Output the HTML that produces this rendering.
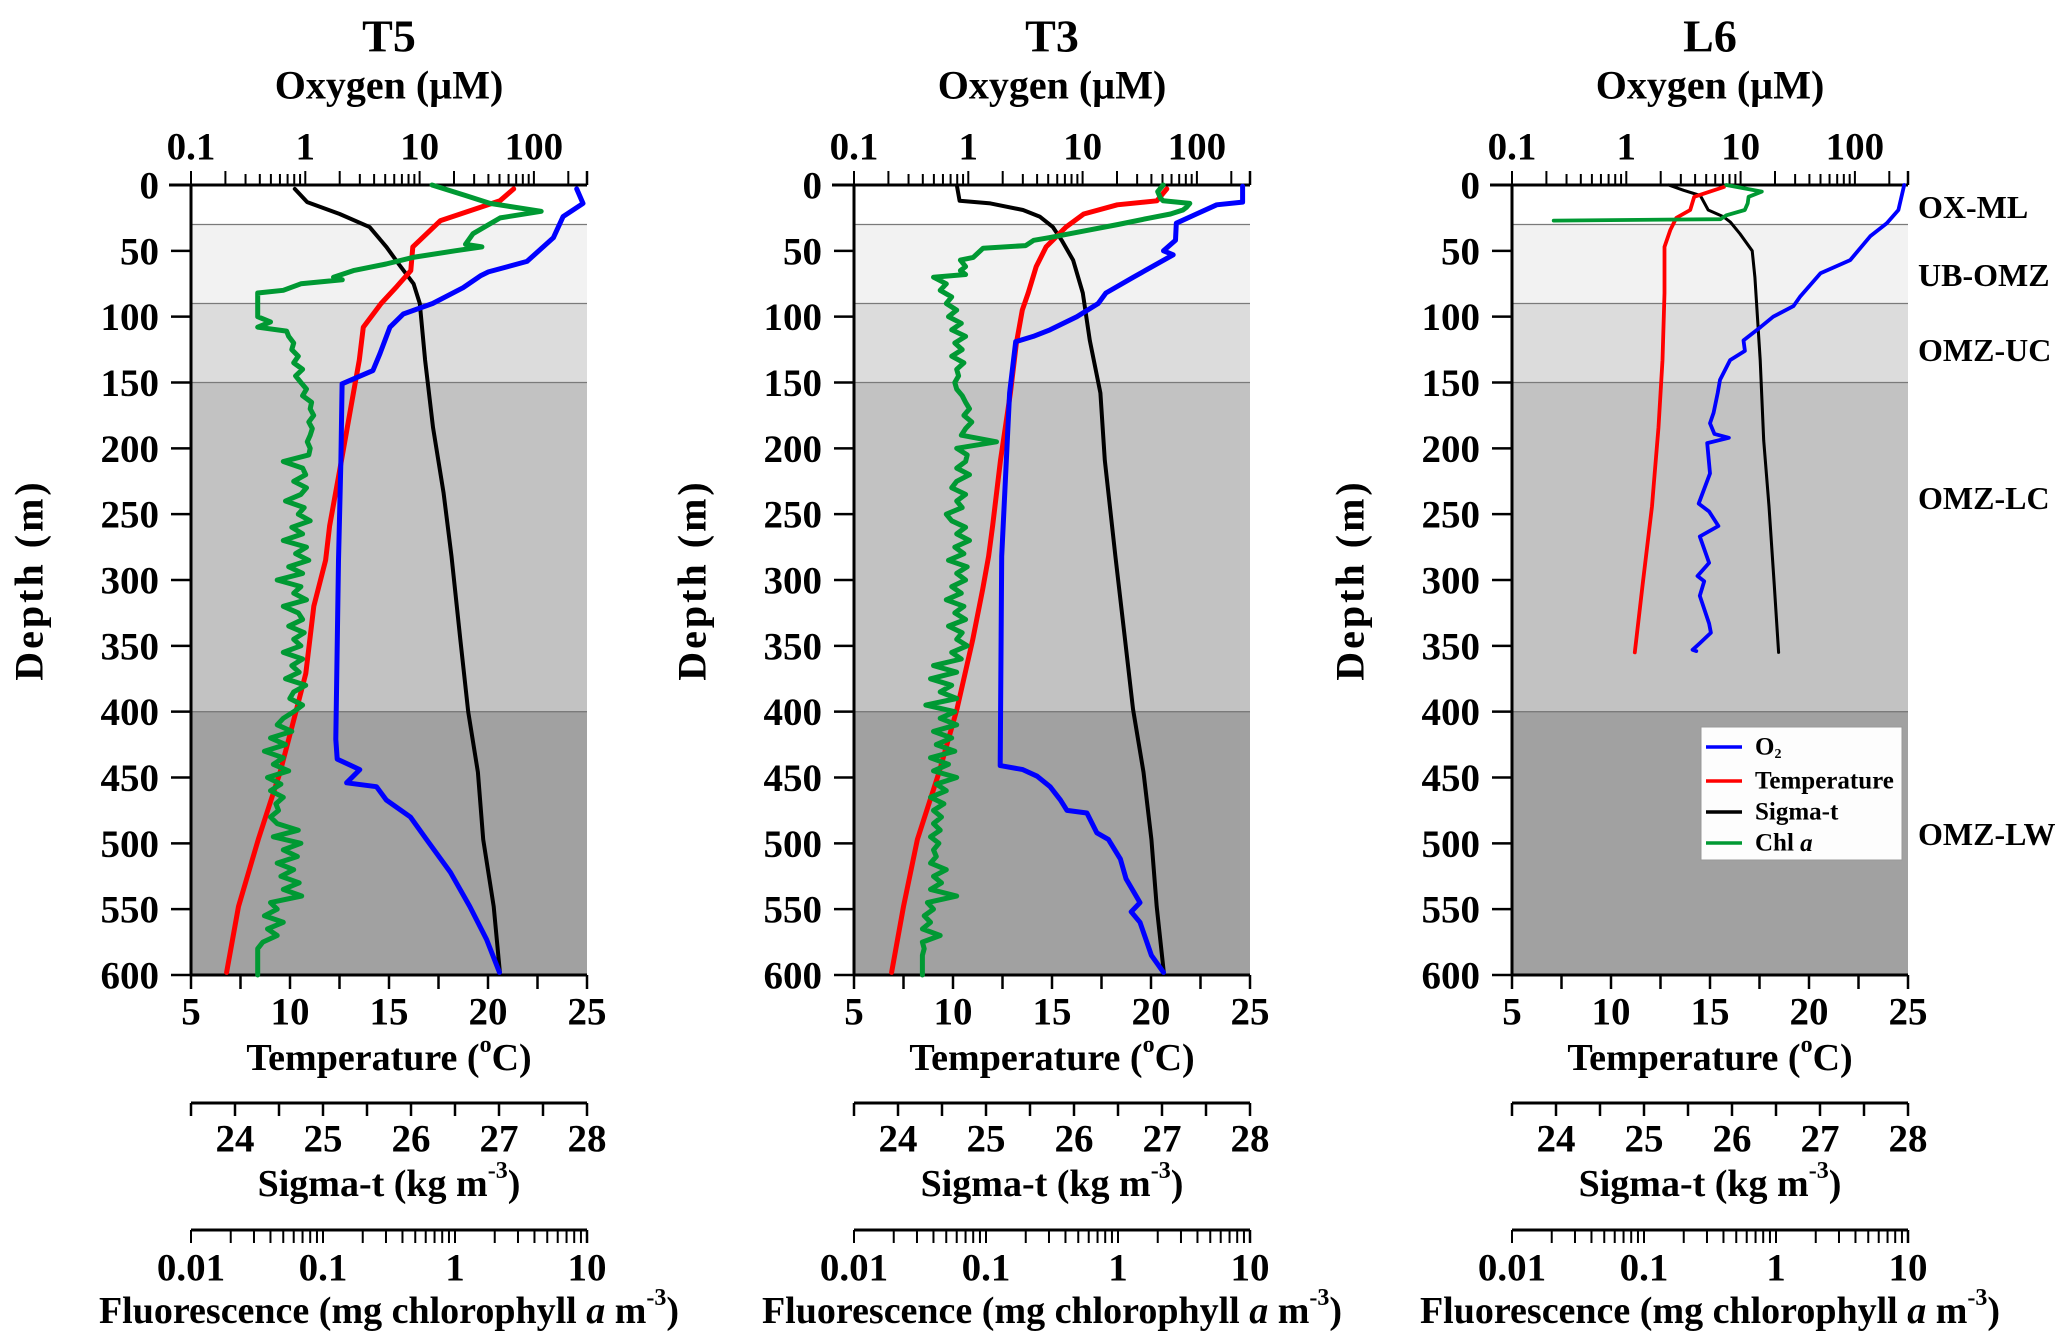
<!DOCTYPE html>
<html><head><meta charset="utf-8"><title>OMZ profiles</title>
<style>
html,body{margin:0;padding:0;background:#fff;}
svg{display:block;font-family:"Liberation Serif","DejaVu Serif",serif;font-weight:bold;}
</style></head>
<body>
<svg id="chart" width="2067" height="1343" viewBox="0 0 2067 1343" xmlns="http://www.w3.org/2000/svg"></svg>
<script>
// ---------- data ----------
const stations = ["T5", "T3", "L6"];
const zoneNames = ["OX-ML", "UB-OMZ", "OMZ-UC", "OMZ-LC", "OMZ-LW"];
const zoneTops = [0, 30, 90, 150, 400];
const zoneBottoms = [30, 90, 150, 400, 600];
const depthTicks = [0, 50, 100, 150, 200, 250, 300, 350, 400, 450, 500, 550, 600];
const tempTicks = [5, 10, 15, 20, 25];
const sigmaTicks = [24, 25, 26, 27, 28];
const oxyTicks = [0.1, 1, 10, 100];
const oxyTickLabels = ["0.1", "1", "10", "100"];
const fluTicks = [0.01, 0.1, 1, 10];
const fluTickLabels = ["0.01", "0.1", "1", "10"];

// T5
const t5TempDepth = [3, 12, 17, 27, 47, 65, 77, 90, 108, 133, 158, 209, 259, 285, 320, 371, 400, 446, 497, 548, 598];
const t5Temp = [21.3, 20.6, 19.6, 17.6, 16.2, 16.1, 15.4, 14.6, 13.7, 13.5, 13.2, 12.6, 12.0, 11.8, 11.2, 10.8, 10.3, 9.5, 8.4, 7.4, 6.8];
const t5SigDepth = [3, 13, 22, 32, 47, 60, 75, 90, 133, 184, 234, 282, 345, 400, 446, 497, 548, 598];
const t5Sig = [24.68, 24.82, 25.19, 25.53, 25.72, 25.86, 26.03, 26.10, 26.16, 26.25, 26.37, 26.46, 26.56, 26.65, 26.76, 26.82, 26.94, 27.01];
const t5OxyDepth = [3, 14, 24, 40, 58, 66, 69, 78, 90, 98, 108, 128, 141, 151, 209, 285, 421, 436, 444, 454, 457, 467, 480, 497, 522, 548, 573, 598];
const t5Oxy = [237, 269, 180, 148, 87, 40, 34, 24, 13, 7.2, 5.5, 4.5, 3.9, 2.1, 2.05, 1.95, 1.85, 1.9, 3.0, 2.3, 4.2, 5.1, 8.3, 11.5, 18.6, 27.5, 38.6, 50];
const t5ChlHeadDepth = [0, 8, 14, 20, 25, 37, 45, 47, 50, 55, 60, 65, 70, 72, 75, 80, 82, 100, 104, 108, 111];
const t5ChlHead = [0.67, 1.2, 1.84, 4.5, 2.2, 1.37, 1.2, 1.6, 1.0, 0.48, 0.3, 0.17, 0.12, 0.14, 0.068, 0.05, 0.032, 0.032, 0.04, 0.032, 0.053];
const t5ChlDeep = [0.055,0.06,0.058,0.065,0.06,0.07,0.062,0.068,0.075,0.07,
 0.082,0.08,0.085,0.078,0.083,0.08,0.076,0.08,0.078,0.05,0.07,0.074,
 0.06,0.075,0.068,0.052,0.072,0.065,0.08,0.058,0.07,0.05,0.075,0.062,0.078,0.055,0.07,0.045,0.068,0.06,0.075,0.05,0.065,0.07,0.055,0.072,0.06,0.068,0.05,0.07,0.058,0.066,0.052,0.074,0.06,0.056,0.07,0.06,
 0.05,0.045,0.058,0.04,0.052,0.036,0.05,0.042,0.055,0.038,0.048,0.04,0.05,0.044,0.046,0.04,
 0.045,0.065,0.042,0.068,0.05,0.064,0.045,0.06,0.048,0.066,0.05,0.069,
 0.04,0.045,0.036,0.05,0.038,0.045,0.035,0.032,0.032,0.032,0.032,0.032];

// T3
const t3TempDepth = [3, 12, 15, 22, 32, 47, 62, 82, 95, 120, 158, 209, 259, 282, 307, 345, 398, 446, 497, 548, 598];
const t3Temp = [20.8, 20.3, 18.3, 16.6, 15.7, 14.7, 14.2, 13.8, 13.5, 13.2, 12.9, 12.4, 12.0, 11.8, 11.5, 11.0, 10.2, 9.3, 8.2, 7.5, 6.9];
const t3SigDepth = [1, 12, 14, 19, 24, 32, 42, 57, 82, 118, 158, 209, 282, 345, 398, 446, 497, 548, 598];
const t3Sig = [24.67, 24.70, 25.05, 25.42, 25.61, 25.76, 25.86, 25.99, 26.10, 26.18, 26.30, 26.35, 26.47, 26.58, 26.67, 26.79, 26.88, 26.94, 27.02];
const t3OxyDepth = [1, 13, 15, 22, 29, 42, 50, 53, 70, 82, 90, 100, 110, 115, 119, 158, 282, 441, 444, 449, 457, 467, 475, 477, 492, 497, 512, 527, 545, 552, 560, 585, 598];
const t3Oxy = [251, 251, 149, 99, 66, 65, 51, 62, 27.8, 16, 13.7, 8.9, 5.2, 3.7, 2.6, 2.3, 1.96, 1.9, 3.0, 4.0, 5.2, 6.4, 7.3, 10.9, 13.3, 16.8, 21.4, 24, 31.8, 26.6, 31.8, 40, 51];
const t3ChlHeadDepth = [0, 5, 10, 12, 14, 17, 19, 22, 25, 30, 35, 40, 42, 46, 48, 55, 57, 62, 65, 68, 70];
const t3ChlHead = [2.2, 2.0, 2.1, 2.2, 3.5, 3.3, 3.1, 2.5, 1.75, 1.0, 0.55, 0.3, 0.23, 0.2, 0.095, 0.08, 0.064, 0.07, 0.064, 0.07, 0.04];
const t3ChlDeep = [0.05,0.045,0.055,0.05,0.06,0.052,0.065,0.055,0.07,0.058,0.066,0.055,0.068,0.06,0.062,0.058,
 0.06,0.066,0.07,0.075,0.068,0.078,0.07,0.065,0.12,0.06,0.072,0.07,0.06,0.075,0.06,0.055,0.07,0.06,0.066,0.05,
 0.055,0.07,0.06,0.075,0.058,0.068,0.052,0.072,0.06,0.07,0.055,0.065,0.05,0.068,0.058,0.07,0.052,0.066,0.06,0.072,0.055,0.065,0.04,0.06,0.038,0.055,0.045,0.06,0.035,0.058,
 0.045,0.06,0.04,0.055,0.042,0.058,0.038,0.052,0.04,0.06,0.042,0.05,0.038,0.048,0.04,0.046,
 0.04,0.045,0.038,0.044,0.04,0.042,0.038,0.05,0.04,0.046,0.038,0.06,
 0.036,0.04,0.034,0.038,0.033,0.045,0.033,0.034,0.033,0.033,0.033,0.033];

// L6
const l6TempDepth = [1.5, 5, 9, 19, 25, 34, 47, 82, 133, 184, 229, 244, 303, 355];
const l6Temp = [15.7, 15.0, 14.2, 14.0, 13.3, 13.0, 12.7, 12.7, 12.6, 12.4, 12.15, 12.07, 11.6, 11.2];
const l6SigDepth = [0, 4, 8, 19, 24, 28, 37, 50, 70, 133, 194, 244, 303, 355];
const l6Sig = [25.28, 25.45, 25.64, 25.73, 25.90, 25.98, 26.09, 26.23, 26.26, 26.32, 26.36, 26.42, 26.48, 26.53];
const l6OxyDepth = [0, 19, 29, 39, 57, 67, 85, 92, 100, 108, 118, 126, 133, 148, 158, 173, 181, 189, 192, 196, 219, 242, 248, 259, 267, 287, 297, 301, 312, 333, 340, 348, 353, 354];
const l6Oxy = [270, 240, 190, 136, 91, 50, 33, 29, 19.3, 14.9, 10.6, 10.9, 8.1, 6.6, 6.3, 5.8, 5.4, 5.9, 7.9, 5.1, 5.4, 4.3, 5.3, 6.4, 4.4, 5.3, 4.2, 4.8, 4.4, 5.3, 5.5, 4.4, 3.8, 4.1];
const l6ChlDepth = [0, 5, 9, 14, 19, 23, 26, 27];
const l6Chl = [0.42, 0.78, 0.62, 0.61, 0.58, 0.42, 0.38, 0.0207];

// ---------- layout ----------
const NS = "http://www.w3.org/2000/svg";
const svg = document.getElementById("chart");
const panelX = [191, 854, 1512];
const PW = 396, Y0 = 185, Y1 = 975;
const zoneFill = ["#ffffff", "#f2f2f2", "#dcdcdc", "#c2c2c2", "#a1a1a1"];
function mk(tag, attrs, parent) {
  const e = document.createElementNS(NS, tag);
  for (const k in attrs) e.setAttribute(k, attrs[k]);
  (parent || svg).appendChild(e);
  return e;
}
function txt(s, x, y, size, anchor, parent) {
  const t = mk("text", {x: x, y: y, "font-size": size, "text-anchor": anchor || "middle", "dominant-baseline": "central", fill: "#000"}, parent);
  t.textContent = s;
  return t;
}
const yD = d => Y0 + d * (Y1 - Y0) / 600;
function scales(x0) {
  return {
    T: v => x0 + (v - 5) / 20 * PW,
    S: v => x0 + (v - 23.5) / 4.5 * PW,
    O: v => x0 + (Math.log10(v) + 1) * 114.3,
    C: v => x0 + (Math.log10(v) + 2) * 132
  };
}
function line(depths, vals, fx, color, w, name, g) {
  const pts = depths.map((d, i) => fx(vals[i]).toFixed(1) + "," + yD(d).toFixed(1)).join(" ");
  const p = mk("polyline", {points: pts, fill: "none", stroke: color, "stroke-width": w, "stroke-linejoin": "round", "stroke-linecap": "round"}, g);
  
  
  return p;
}

const series = [
  {temp: [t5TempDepth, t5Temp], sig: [t5SigDepth, t5Sig], oxy: [t5OxyDepth, t5Oxy],
   chl: [t5ChlHeadDepth.concat(t5ChlDeep.map((v, i) => 115 + 5 * i)), t5ChlHead.concat(t5ChlDeep)], w: 5},
  {temp: [t3TempDepth, t3Temp], sig: [t3SigDepth, t3Sig], oxy: [t3OxyDepth, t3Oxy],
   chl: [t3ChlHeadDepth.concat(t3ChlDeep.map((v, i) => 75 + 5 * i)), t3ChlHead.concat(t3ChlDeep)], w: 5},
  {temp: [l6TempDepth, l6Temp], sig: [l6SigDepth, l6Sig], oxy: [l6OxyDepth, l6Oxy], chl: [l6ChlDepth, l6Chl], w: 3.8}
];

stations.forEach((st, si) => {
  const x0 = panelX[si], x1 = x0 + PW, cx = x0 + PW / 2;
  const sc = scales(x0);
  const g = mk("g", {});
  
  

  zoneTops.forEach((t, i) => {
    const r = mk("rect", {x: x0, y: yD(t), width: PW, height: yD(zoneBottoms[i]) - yD(t), fill: zoneFill[i]}, g);
    
    
    if (t > 0) mk("line", {x1: x0, x2: x1, y1: yD(t), y2: yD(t), stroke: "#7a7a7a", "stroke-width": 1.3}, g);
  });

  const tt = txt(st, cx, 36, 46, "middle", g);
  
  
  const ot = txt("Oxygen (µM)", cx, 85, 40, "middle", g);
  
  

  mk("line", {x1: x0 - 22, x2: x1, y1: Y0, y2: Y0, stroke: "#000", "stroke-width": 3}, g);
  for (let dec = 0.1; dec < 1000; dec *= 10) {
    for (let m = 1; m <= 9; m++) {
      const v = dec * m;
      const x = sc.O(v);
      if (x > x1 + 0.5) break;
      mk("line", {x1: x, x2: x, y1: Y0, y2: Y0 - (m === 1 || m === 2 ? 14 : 11), stroke: "#000", "stroke-width": 2}, g);
    }
  }
  mk("line", {x1: x1, x2: x1, y1: Y0, y2: Y0 - 14, stroke: "#000", "stroke-width": 2.5}, g);
  oxyTicks.forEach((v, i) => {
    const l = txt(oxyTickLabels[i], sc.O(v), 147, 39, "middle", g);
    
    
  });

  mk("line", {x1: x0, x2: x0, y1: Y0, y2: Y1, stroke: "#000", "stroke-width": 3}, g);
  depthTicks.forEach(d => {
    mk("line", {x1: x0 - 20, x2: x0, y1: yD(d), y2: yD(d), stroke: "#000", "stroke-width": 2.5}, g);
    const l = txt(String(d), x0 - 32, yD(d) + 1, 39, "end", g);
    
    
  });
  const dt = txt("Depth (m)", 0, 0, 40, "middle", g);
  dt.setAttribute("transform", "translate(" + (x0 - 162) + "," + 580 + ") rotate(-90)");
  dt.setAttribute("letter-spacing", "3");
  
  

  mk("line", {x1: x0, x2: x1, y1: Y1, y2: Y1, stroke: "#000", "stroke-width": 3}, g);
  for (let t = 5; t <= 25; t += 2.5) mk("line", {x1: sc.T(t), x2: sc.T(t), y1: Y1, y2: Y1 + 14, stroke: "#000", "stroke-width": 2.5}, g);
  tempTicks.forEach(t => {
    const l = txt(String(t), sc.T(t), 1012, 39, "middle", g);
    
    
  });
  const tT = mk("text", {x: cx, y: 1058, "font-size": 38, "text-anchor": "middle", "dominant-baseline": "central"}, g);
  tT.innerHTML = 'Temperature (<tspan baseline-shift="super" font-size="24">o</tspan>C)';
  
  

  mk("line", {x1: x0, x2: x1, y1: 1103, y2: 1103, stroke: "#000", "stroke-width": 3}, g);
  for (let s = 23.5; s <= 28.01; s += 0.5) mk("line", {x1: sc.S(s), x2: sc.S(s), y1: 1103, y2: 1116, stroke: "#000", "stroke-width": 2.5}, g);
  sigmaTicks.forEach(s => {
    const l = txt(String(s), sc.S(s), 1139, 39, "middle", g);
    
    
  });
  const sT = mk("text", {x: cx, y: 1184, "font-size": 38, "text-anchor": "middle", "dominant-baseline": "central"}, g);
  sT.innerHTML = 'Sigma-t (kg m<tspan baseline-shift="super" font-size="24">-3</tspan>)';
  
  

  mk("line", {x1: x0, x2: x1, y1: 1230, y2: 1230, stroke: "#000", "stroke-width": 3}, g);
  for (let dec = 0.01; dec < 11; dec *= 10) {
    for (let m = 1; m <= 9; m++) {
      const x = sc.C(dec * m);
      if (x > x1 + 0.5) break;
      mk("line", {x1: x, x2: x, y1: 1230, y2: 1243, stroke: "#000", "stroke-width": 2}, g);
    }
  }
  mk("line", {x1: x1, x2: x1, y1: 1230, y2: 1243, stroke: "#000", "stroke-width": 2.5}, g);
  fluTicks.forEach((v, i) => {
    const l = txt(fluTickLabels[i], sc.C(v), 1268, 39, "middle", g);
    
    
  });
  const fT = mk("text", {x: cx, y: 1311, "font-size": 38, "text-anchor": "middle", "dominant-baseline": "central"}, g);
  fT.innerHTML = 'Fluorescence (mg chlorophyll <tspan font-style="italic">a</tspan> m<tspan baseline-shift="super" font-size="24">-3</tspan>)';
  
  

  const s = series[si];
  line(s.sig[0], s.sig[1], sc.S, "#000000", s.w * 0.8, "sigma-t-line", g);
  line(s.temp[0], s.temp[1], sc.T, "#ff0000", s.w, "temperature-line", g);
  line(s.chl[0], s.chl[1], sc.C, "#009933", s.w, "chl-line", g);
  line(s.oxy[0], s.oxy[1], sc.O, "#0000ff", s.w, "oxygen-line", g);
});

const zoneLabelY = [207, 275, 350, 498, 834];
zoneNames.forEach((z, i) => {
  const l = txt(z, 1918, zoneLabelY[i], 32, "start");
  
  
});

const lg = mk("g", {});


mk("rect", {x: 1701, y: 727, width: 201, height: 133, fill: "#fdfdfd", stroke: "#999", "stroke-width": 1}, lg);
const legColors = ["#0000ff", "#ff0000", "#000000", "#009933"];
const legY = [747, 781, 812, 843];
const legLabels = ['O<tspan baseline-shift="sub" font-size="14">2</tspan>', "Temperature", "Sigma-t", 'Chl <tspan font-style="italic">a</tspan>'];
legLabels.forEach((lab, i) => {
  const e = mk("g", {}, lg);
  
  
  mk("line", {x1: 1706, x2: 1742, y1: legY[i], y2: legY[i], stroke: legColors[i], "stroke-width": 3.5}, e);
  const t = mk("text", {x: 1755, y: legY[i], "font-size": 25, "dominant-baseline": "central"}, e);
  t.innerHTML = lab;
});
</script>
</body></html>
